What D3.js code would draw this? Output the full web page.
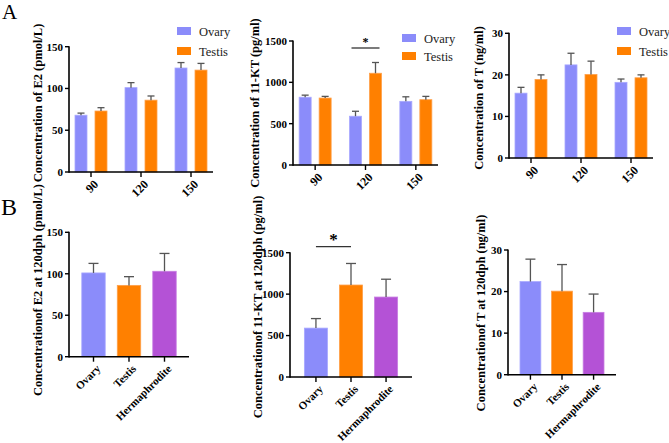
<!DOCTYPE html>
<html>
<head>
<meta charset="utf-8">
<script src="https://cdn.jsdelivr.net/npm/d3@7"></script>
<style>
  body { margin: 0; background: #fff; }
  svg { display: block; font-family: 'Liberation Serif', 'Times New Roman', serif; }
</style>
</head>
<body>
<div id="chart"></div>
<script>
// age groups (dph) for panel A, sexes for panel B
const ageGroups = ['90', '120', '150']
const sexes = ['Ovary', 'Testis', 'Hermaphrodite']
const seriesNames = ['Ovary', 'Testis']

// A: means and upper error (SEM) by age
const e2Ovary = [68, 101, 124.5]
const e2OvaryErr = [2.5, 6, 6.5]
const e2Testis = [73, 86, 122]
const e2TestisErr = [4, 5, 8]

const ktOvary = [820, 590, 770]
const ktOvaryErr = [25, 60, 55]
const ktTestis = [810, 1110, 790]
const ktTestisErr = [20, 130, 40]

const tOvary = [15.6, 22.4, 18.2]
const tOvaryErr = [1.4, 2.8, 0.8]
const tTestis = [18.9, 20.1, 19.3]
const tTestisErr = [1.1, 3.2, 0.7]

// B: at 120 dph by sex
const e2Sex = [101, 86, 103]
const e2SexErr = [11.5, 10.5, 21.5]
const ktSex = [590, 1110, 965]
const ktSexErr = [115, 260, 215]
const tSex = [22.4, 20.1, 15]
const tSexErr = [5.4, 6.4, 4.4]

const e2Ticks = [0, 50, 100, 150]
const ktTicks = [0, 500, 1000, 1500]
const tTicks = [0, 10, 20, 30]

const colors = { Ovary: '#8b8cfa', Testis: '#ff8000', Hermaphrodite: '#b452d6' }
const strokes = { Ovary: '#a8a8ff', Testis: '#ffa04a', Hermaphrodite: '#c77ee2' }

const svg = d3.select('#chart')
  .append('svg')
  .attr('width', 669)
  .attr('height', 443)

// panel letters
svg.append('text').attr('x', 2).attr('y', 19).attr('font-size', 21).text('A')
svg.append('text').attr('x', 1).attr('y', 215).attr('font-size', 24).text('B')

// draws the axes frame shared by all six charts
function drawAxes (g, p, x, y, cats) {
  g.append('line')
    .attr('x1', p.x0).attr('x2', p.x1)
    .attr('y1', p.y0).attr('y2', p.y0)
    .attr('stroke', '#000').attr('stroke-width', 1.6)
  g.append('line')
    .attr('x1', p.x0).attr('x2', p.x0)
    .attr('y1', p.yTop - 0.5).attr('y2', p.y0 + 0.8)
    .attr('stroke', '#000').attr('stroke-width', 1.6)

  const yt = g.selectAll('.yt').data(p.ticks).enter().append('g')
    .attr('transform', d => 'translate(0,' + y(d) + ')')
  yt.append('line')
    .attr('x1', p.x0 - 4).attr('x2', p.x0)
    .attr('stroke', '#000').attr('stroke-width', 1.4)
  yt.append('text')
    .attr('x', p.x0 - 6).attr('dy', '0.35em')
    .attr('text-anchor', 'end')
    .attr('font-size', 11).attr('font-weight', 'bold')
    .text(d => d)

  const xt = g.selectAll('.xt').data(cats).enter().append('g')
    .attr('transform', d => 'translate(' + x(d) + ',' + p.y0 + ')')
  xt.append('line')
    .attr('y1', 0).attr('y2', 5)
    .attr('stroke', '#000').attr('stroke-width', 1.4)
  xt.append('text')
    .attr('transform', 'translate(5,10) rotate(-45)')
    .attr('text-anchor', 'end')
    .attr('dy', '0.35em')
    .attr('font-size', p.xFont).attr('font-weight', 'bold')
    .text(d => d)

  g.append('text')
    .attr('transform', 'translate(' + p.titleX + ',' + p.titleY + ') rotate(-90)')
    .attr('text-anchor', 'middle')
    .attr('font-size', 12.5).attr('font-weight', 'bold')
    .text(p.title)
}

function errBar (g, cx, yMean, yTop, cap) {
  g.append('line')
    .attr('x1', cx).attr('x2', cx).attr('y1', yMean).attr('y2', yTop)
    .attr('stroke', '#555').attr('stroke-width', 1.3)
  g.append('line')
    .attr('x1', cx - cap).attr('x2', cx + cap).attr('y1', yTop).attr('y2', yTop)
    .attr('stroke', '#555').attr('stroke-width', 1.3)
}

// grouped bars (panel A)
function groupedChart (p) {
  const g = svg.append('g')
  const y = d3.scaleLinear().domain([0, p.max]).range([p.y0, p.yTop])
  const x = d3.scalePoint().domain(ageGroups).range([p.x0, p.x1]).padding(0.44)
  const sub = d3.scaleBand().domain(seriesNames).range([-16, 16]).paddingInner(0.4)

  p.series.forEach((s, si) => {
    const name = seriesNames[si]
    ageGroups.forEach((a, i) => {
      const bx = x(a) + sub(name)
      g.append('rect')
        .attr('x', bx).attr('y', y(s.values[i]))
        .attr('width', sub.bandwidth()).attr('height', p.y0 - y(s.values[i]))
        .attr('fill', colors[name]).attr('stroke', strokes[name]).attr('stroke-width', 0.8)
      errBar(g, bx + sub.bandwidth() / 2, y(s.values[i]), y(s.values[i] + s.err[i]), 3.5)
    })
  })
  p.xFont = 12
  drawAxes(g, p, x, y, ageGroups)

  // legend
  seriesNames.forEach((name, i) => {
    g.append('rect')
      .attr('x', p.legX).attr('y', p.legY + i * p.legStep)
      .attr('width', 14).attr('height', 8)
      .attr('fill', colors[name])
    g.append('text')
      .attr('x', p.legX + 22).attr('y', p.legY + i * p.legStep + 8.5)
      .attr('font-size', 12.5).attr('fill', '#222')
      .text(name)
  })
  return { g, x, y, sub }
}

// single bars (panel B)
function sexChart (p) {
  const g = svg.append('g')
  const y = d3.scaleLinear().domain([0, p.max]).range([p.y0, p.yTop])
  const x = d3.scalePoint().domain(sexes).range([p.x0, p.x1]).padding(p.pad)
  const bw = x.step() * 0.66
  sexes.forEach((s, i) => {
    g.append('rect')
      .attr('x', x(s) - bw / 2).attr('y', y(p.values[i]))
      .attr('width', bw).attr('height', p.y0 - y(p.values[i]))
      .attr('fill', colors[s]).attr('stroke', strokes[s]).attr('stroke-width', 0.8)
    errBar(g, x(s), y(p.values[i]), y(p.values[i] + p.err[i]), 5)
  })
  p.xFont = 11
  drawAxes(g, p, x, y, sexes)
  return { g, x, y }
}

function sigMark (g, xa, xb, yy, size) {
  g.append('line')
    .attr('x1', xa).attr('x2', xb).attr('y1', yy).attr('y2', yy)
    .attr('stroke', '#333').attr('stroke-width', 1.3)
  g.append('text')
    .attr('x', (xa + xb) / 2).attr('y', yy - 2)
    .attr('text-anchor', 'middle')
    .attr('font-size', size).attr('font-weight', 'bold')
    .text('*')
}

groupedChart({
  x0: 69, x1: 213, yTop: 46.7, y0: 172, max: 150, ticks: e2Ticks,
  series: [{ values: e2Ovary, err: e2OvaryErr }, { values: e2Testis, err: e2TestisErr }],
  title: 'Concentration of E2 (pmol/L)', titleX: 42, titleY: 103,
  legX: 177, legY: 27, legStep: 20
})

const a2 = groupedChart({
  x0: 293, x1: 438, yTop: 41, y0: 165, max: 1500, ticks: ktTicks,
  series: [{ values: ktOvary, err: ktOvaryErr }, { values: ktTestis, err: ktTestisErr }],
  title: 'Concentration of 11-KT (pg/ml)', titleX: 259, titleY: 103,
  legX: 402, legY: 34, legStep: 18
})
sigMark(a2.g, a2.x('120') - 14, a2.x('120') + 14, 48, 12)

groupedChart({
  x0: 509, x1: 653, yTop: 33.3, y0: 158, max: 30, ticks: tTicks,
  series: [{ values: tOvary, err: tOvaryErr }, { values: tTestis, err: tTestisErr }],
  title: 'Concentration of T (ng/ml)', titleX: 483, titleY: 98,
  legX: 617, legY: 27, legStep: 20
})

sexChart({
  x0: 69, x1: 189, yTop: 232.3, y0: 356.7, max: 150, ticks: e2Ticks, pad: 0.69,
  values: e2Sex, err: e2SexErr,
  title: 'Concentrationof E2 at 120dph (pmol/L)', titleX: 42, titleY: 290
})

const b2 = sexChart({
  x0: 290, x1: 412, yTop: 252.7, y0: 377, max: 1500, ticks: ktTicks, pad: 0.74,
  values: ktSex, err: ktSexErr,
  title: 'Concentrationof 11-KT at 120dph (pg/ml)', titleX: 262, titleY: 307
})
sigMark(b2.g, b2.x('Ovary'), b2.x('Testis'), 246.7, 17)

sexChart({
  x0: 508, x1: 616, yTop: 250, y0: 374.7, max: 30, ticks: tTicks, pad: 0.71,
  values: tSex, err: tSexErr,
  title: 'Concentrationof T at 120dph (ng/ml)', titleX: 485, titleY: 313
})
</script>
</body>
</html>
